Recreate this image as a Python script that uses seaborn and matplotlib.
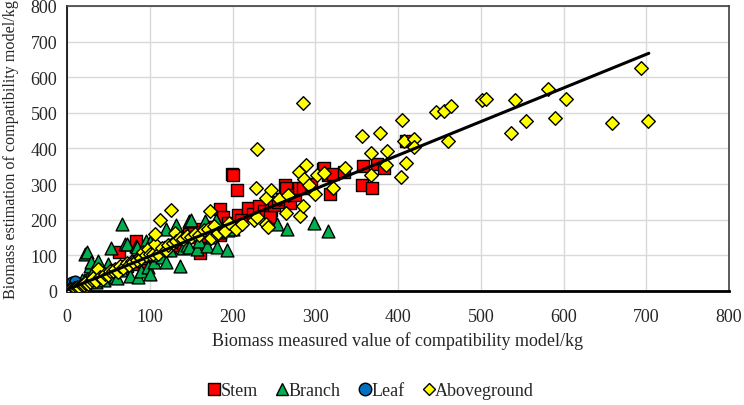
import numpy as np
import pandas as pd
import matplotlib
matplotlib.use("Agg")
import matplotlib.pyplot as plt
import seaborn as sns

# measured (x) vs estimated (y) biomass, kg
stem_x = [2, 4, 6, 8, 10, 12, 15, 18, 22, 25, 28, 32, 35, 40, 45, 50, 55, 60, 63, 68,
          72, 78, 83, 84, 88, 95, 100, 105, 110, 115, 120, 125, 130, 135, 140, 143, 148, 153,
          158, 161, 161, 165, 170, 175, 180, 185, 185, 189, 195, 199, 201, 206, 207, 210, 219,
          225, 232, 238, 246, 245, 250, 255, 260, 263, 265, 269, 275, 280, 285, 295, 309, 310,
          315, 318, 322, 335, 357, 358, 368, 374, 383, 410]
stem_y = [3, 5, 4, 9, 7, 14, 12, 20, 18, 24, 30, 27, 38, 35, 44, 48, 52, 58, 109, 62,
          70, 75, 129, 141, 85, 92, 98, 101, 108, 118, 115, 122, 128, 140, 135, 154, 160, 169,
          150, 174, 107, 154, 165, 178, 172, 230, 157, 207, 190, 329, 324, 282, 212, 200, 232,
          215, 238, 225, 228, 208, 240, 250, 258, 296, 289, 247, 270, 288, 290, 300, 343, 345,
          326, 272, 329, 335, 296, 350, 290, 357, 345, 422]

branch_x = [3, 5, 8, 10, 12, 15, 18, 20, 22, 24, 25, 28, 29, 30, 35, 38, 40, 45, 50, 53,
            58, 60, 65, 66, 70, 72, 76, 84, 85, 86, 90, 96, 98, 100, 100, 105, 110, 115, 120,
            120, 125, 132, 136, 140, 145, 147, 147, 150, 157, 160, 167, 169, 175, 180, 181, 185,
            193, 195, 200, 254, 266, 298, 315]
branch_y = [2, 6, 5, 12, 20, 10, 30, 15, 105, 109, 40, 70, 81, 50, 25, 85, 60, 30, 76, 120,
            40, 36, 60, 188, 132, 132, 43, 127, 123, 38, 55, 141, 67, 137, 48, 80, 100, 95, 174,
            81, 115, 185, 71, 120, 130, 197, 123, 200, 118, 140, 195, 127, 150, 198, 123, 165,
            115, 170, 175, 188, 174, 190, 169]

leaf_x = [1, 2, 3, 4, 5, 6, 7, 8, 9, 10, 11, 12, 14, 15, 17, 18, 20, 6, 8, 10]
leaf_y = [1, 3, 2, 5, 4, 8, 6, 10, 7, 12, 9, 15, 11, 18, 14, 20, 16, 24, 20, 27]

above_x = [2, 5, 8, 10, 12, 15, 18, 20, 22, 25, 28, 30, 32, 35, 38, 40, 44, 46, 50, 52,
           56, 58, 62, 64, 68, 72, 75, 78, 80, 85, 88, 90, 92, 95, 98, 100, 104, 106, 106, 110,
           112, 115, 120, 122, 126, 128, 130, 132, 137, 140, 145, 150, 155, 160, 165, 170, 173,
           174, 178, 181, 183, 190, 191, 196, 204, 211, 226, 229, 228, 230, 240, 243, 240, 246,
           256, 265, 267, 280, 282, 285, 285, 286, 289, 292, 300, 302, 311, 322, 336, 357, 367,
           367, 378, 386, 387, 404, 405, 407, 410, 419, 419, 446, 456, 460, 464, 502, 506, 536,
           541, 555, 581, 590, 603, 659, 694, 702]
above_y = [2, 4, 7, 9, 11, 12, 16, 18, 22, 20, 26, 30, 36, 28, 62, 40, 34, 48, 45, 55,
           57, 62, 52, 70, 64, 78, 72, 85, 80, 88, 95, 92, 109, 100, 118, 105, 104, 132, 160, 104,
           199, 120, 115, 128, 228, 135, 163, 140, 148, 145, 155, 150, 160, 158, 170, 175, 223,
           148, 182, 160, 163, 171, 169, 190, 174, 188, 198, 207, 290, 399, 188, 179, 260, 282,
           258, 219, 268, 333, 210, 238, 528, 313, 354, 298, 272, 326, 331, 288, 345, 434, 388,
           326, 444, 354, 393, 319, 479, 421, 360, 427, 404, 501, 506, 421, 518, 537, 539, 443,
           535, 476, 567, 486, 539, 472, 626, 478]

# fitted line, end points
fit_x = [0, 703]
fit_y = [3, 667]

sns.set_style("white")
plt.rcParams['font.family'] = ['Liberation Serif', 'DejaVu Serif']

fig = plt.figure(figsize=(7.44, 4.06), dpi=100)
ax = fig.add_axes([0.090, 0.281, 0.890, 0.702])

kw = dict(edgecolor='black', linewidth=1, ax=ax, legend=False)
sns.scatterplot(x=stem_x, y=stem_y, marker='s', s=75, color='#FF0000', zorder=3, **kw)
sns.scatterplot(x=branch_x, y=branch_y, marker='^', s=85, color='#00B050', zorder=3, **kw)
sns.scatterplot(x=leaf_x, y=leaf_y, marker='o', s=60, color='#0070C0', zorder=3, **kw)
sns.scatterplot(x=above_x, y=above_y, marker='D', s=48, color='#FFFF00', zorder=4, **kw)
sns.lineplot(x=fit_x, y=fit_y, color='black', linewidth=2.2, ax=ax, zorder=5)

ax.set_xlim(0, 800)
ax.set_ylim(0, 800)
ax.set_xticks(range(0, 801, 100))
ax.set_yticks(range(0, 801, 100))
ax.grid(True, color='#D9D9D9', linewidth=1)
ax.set_axisbelow(True)
ax.tick_params(axis='x', direction='in', length=4, width=1, color='black', labelsize=13, pad=12)
ax.tick_params(axis='y', length=0, labelsize=13, pad=7)
for side in ['top', 'right']:
    ax.spines[side].set_color('#404040')
    ax.spines[side].set_linewidth(1.2)
ax.spines['left'].set_color('black')
ax.spines['left'].set_linewidth(1.2)
ax.spines['bottom'].set_color('black')
ax.spines['bottom'].set_linewidth(2)

ax.set_xlabel('Biomass measured value of compatibility model/kg', fontsize=13, labelpad=5)
ax.set_ylabel('Biomass estimation of compatibility model/kg', fontsize=11.6)
ax.yaxis.set_label_coords(-0.072, 0.5)

handles = [
    plt.Line2D([], [], marker='s', color='none', markerfacecolor='#FF0000', markeredgecolor='black', markersize=9),
    plt.Line2D([], [], marker='^', color='none', markerfacecolor='#00B050', markeredgecolor='black', markersize=9),
    plt.Line2D([], [], marker='o', color='none', markerfacecolor='#0070C0', markeredgecolor='black', markersize=9),
    plt.Line2D([], [], marker='D', color='none', markerfacecolor='#FFFF00', markeredgecolor='black', markersize=6),
]
fig.legend(handles, ['Stem', 'Branch', 'Leaf', 'Aboveground'], loc='center',
           bbox_to_anchor=(0.5, 0.036), ncol=4, frameon=False, fontsize=13,
           handlelength=0.5, handletextpad=0.1, columnspacing=1.1)

fig.savefig('out.png', dpi=100)
